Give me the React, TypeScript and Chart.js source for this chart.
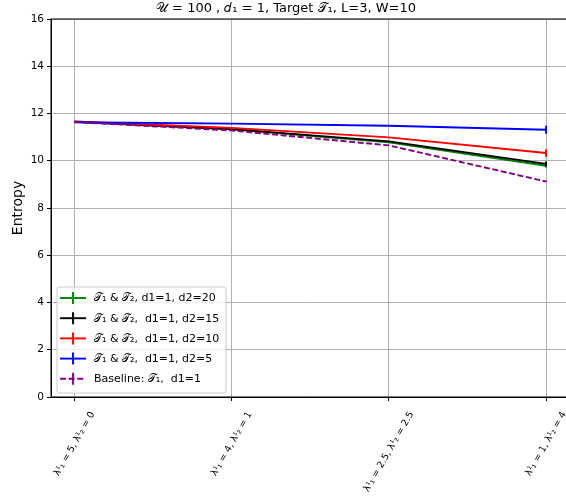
import React, { useEffect, useRef } from "react";
import { Chart, registerables } from "chart.js";

Chart.register(...registerables);

const categories = [
  "λ¹₁ = 5, λ¹₂ = 0",
  "λ¹₁ = 4, λ¹₂ = 1",
  "λ¹₁ = 2.5, λ¹₂ = 2.5",
  "λ¹₁ = 1, λ¹₂ = 4",
];
const yTicks = [0, 2, 4, 6, 8, 10, 12, 14, 16];

const seriesLabels = [
  "𝒯₁ & 𝒯₂, d1=1, d2=20",
  "𝒯₁ & 𝒯₂,  d1=1, d2=15",
  "𝒯₁ & 𝒯₂,  d1=1, d2=10",
  "𝒯₁ & 𝒯₂,  d1=1, d2=5",
  "Baseline: 𝒯₁,  d1=1",
];
const seriesColors = ["#008000", "#000000", "#ff0000", "#0000ff", "#800080"];

const d2_20 = [11.65, 11.33, 10.78, 9.79];
const d2_15 = [11.65, 11.34, 10.82, 9.87];
const d2_10 = [11.66, 11.39, 10.99, 10.33];
const d2_5 = [11.63, 11.57, 11.48, 11.31];
const baseline = [11.64, 11.28, 10.65, 9.12];

const err_20 = [0, 0, 0, 0.08];
const err_15 = [0, 0, 0, 0.1];
const err_10 = [0, 0, 0, 0.16];
const err_5 = [0, 0, 0, 0.17];
const err_base = [0, 0, 0, 0.02];

const seriesValues = [d2_20, d2_15, d2_10, d2_5, baseline];
const seriesErrors = [err_20, err_15, err_10, err_5, err_base];

const TITLE = "𝒰 = 100 , 𝑑₁ = 1, Target 𝒯₁, L=3, W=10";
const Y_LABEL = "Entropy";
const FONT = "'DejaVu Sans', sans-serif";

export default function App() {
  const ref = useRef<HTMLCanvasElement>(null);
  useEffect(() => {
    const canvas = ref.current!;
    const datasets = seriesValues.map((vals, i) => ({
      label: seriesLabels[i],
      data: vals.map((v, j) => ({ x: j, y: v })),
      borderColor: seriesColors[i],
      backgroundColor: seriesColors[i],
      borderWidth: 1.9,
      borderDash: i === 4 ? [6, 2.6] : [],
      pointRadius: 0,
      tension: 0,
      order: 4 - i,
      errs: seriesErrors[i],
    }));

    const plugin = {
      id: "custom",
      afterDatasetsDraw(chart: any) {
        const ctx = chart.ctx;
        const xs = chart.scales.x;
        const ys = chart.scales.y;
        chart.data.datasets.forEach((ds: any) => {
          ctx.save();
          ctx.strokeStyle = ds.borderColor;
          ctx.lineWidth = 1.9;
          ds.data.forEach((p: any, j: number) => {
            const e = ds.errs[j];
            if (!e) return;
            const px = xs.getPixelForValue(p.x);
            ctx.beginPath();
            ctx.moveTo(px, ys.getPixelForValue(p.y - e));
            ctx.lineTo(px, ys.getPixelForValue(p.y + e));
            ctx.stroke();
          });
          ctx.restore();
        });
      },
      afterDraw(chart: any) {
        const ctx = chart.ctx;
        const a = chart.chartArea;
        const xs = chart.scales.x;
        // spines
        ctx.save();
        ctx.strokeStyle = "#000";
        ctx.lineWidth = 1;
        ctx.strokeRect(a.left, a.top, a.right - a.left, a.bottom - a.top);
        ctx.restore();
        // title
        ctx.save();
        ctx.fillStyle = "#000";
        ctx.font = `13px ${FONT}`;
        ctx.textAlign = "center";
        ctx.textBaseline = "alphabetic";
        ctx.fillText(TITLE, 286, 12);
        ctx.restore();
        // y label
        ctx.save();
        ctx.fillStyle = "#000";
        ctx.font = `14px ${FONT}`;
        ctx.translate(18, (a.top + a.bottom) / 2);
        ctx.rotate(-Math.PI / 2);
        ctx.textAlign = "center";
        ctx.textBaseline = "middle";
        ctx.fillText(Y_LABEL, 0, 0);
        ctx.restore();
        // x tick labels, rotated 60deg, bbox centred on tick
        ctx.save();
        ctx.fillStyle = "#000";
        ctx.font = `9.5px ${FONT}`;
        const th = (60 * Math.PI) / 180;
        const h = 10;
        categories.forEach((lab, i) => {
          const L = ctx.measureText(lab).width;
          const bh = L * Math.sin(th) + h * Math.cos(th);
          const cx = xs.getPixelForValue(i);
          const cy = a.bottom + 13 + bh / 2;
          ctx.save();
          ctx.translate(cx, cy);
          ctx.rotate(-th);
          ctx.textAlign = "center";
          ctx.textBaseline = "middle";
          ctx.fillText(lab, 0, 0);
          ctx.restore();
        });
        ctx.restore();
        // legend
        ctx.save();
        const lx = 57, ly = 287, lw = 169, lh = 106;
        ctx.beginPath();
        ctx.roundRect(lx, ly, lw, lh, 3);
        ctx.fillStyle = "rgba(255,255,255,0.8)";
        ctx.fill();
        ctx.strokeStyle = "#cccccc";
        ctx.lineWidth = 1;
        ctx.stroke();
        ctx.font = `11px ${FONT}`;
        ctx.textBaseline = "middle";
        seriesLabels.forEach((lab, i) => {
          const y = 298 + i * 20.2;
          ctx.strokeStyle = seriesColors[i];
          ctx.lineWidth = 1.9;
          ctx.setLineDash(i === 4 ? [6, 2.6] : []);
          ctx.beginPath();
          ctx.moveTo(60, y);
          ctx.lineTo(86, y);
          ctx.stroke();
          ctx.setLineDash([]);
          ctx.beginPath();
          ctx.moveTo(73, y - 6);
          ctx.lineTo(73, y + 6);
          ctx.stroke();
          ctx.fillStyle = "#000";
          ctx.textAlign = "left";
          ctx.fillText(lab, 94, y + 0.5);
        });
        ctx.restore();
      },
    };

    const chart = new Chart(canvas, {
      type: "line",
      data: { datasets: datasets as any },
      options: {
        animation: false,
        responsive: false,
        maintainAspectRatio: false,
        layout: { padding: { top: 19, right: 10.4, left: 0, bottom: 0 } },
        plugins: {
          legend: { display: false },
          title: { display: false },
          tooltip: { enabled: false },
        },
        scales: {
          x: {
            type: "linear",
            min: -0.15,
            max: 3.15,
            afterBuildTicks: (s: any) => {
              s.ticks = categories.map((_, i) => ({ value: i }));
            },
            afterFit: (s: any) => {
              s.height = 104;
            },
            ticks: { display: false },
            grid: {
              color: "#b0b0b0",
              tickColor: "#000",
              tickLength: 4,
              lineWidth: 1,
            },
            border: { color: "#000" },
          },
          y: {
            min: 0,
            max: 16,
            afterBuildTicks: (s: any) => {
              s.ticks = yTicks.map((v) => ({ value: v }));
            },
            afterFit: (s: any) => {
              s.width = 51;
            },
            ticks: {
              color: "#000",
              font: { family: FONT, size: 10.5 },
              padding: 3,
              callback: (v: any) => String(v),
            },
            grid: {
              color: "#b0b0b0",
              tickColor: "#000",
              tickLength: 4,
              lineWidth: 1,
            },
            border: { color: "#000" },
          },
        },
      },
      plugins: [plugin],
    });
    return () => chart.destroy();
  }, []);

  return (
    <div
      style={{
        position: "fixed",
        left: 0,
        top: 0,
        width: 566,
        height: 501,
        overflow: "hidden",
        background: "#fff",
      }}
    >
      <canvas ref={ref} width={580} height={501} style={{ width: 580, height: 501, display: "block" }} />
    </div>
  );
}
